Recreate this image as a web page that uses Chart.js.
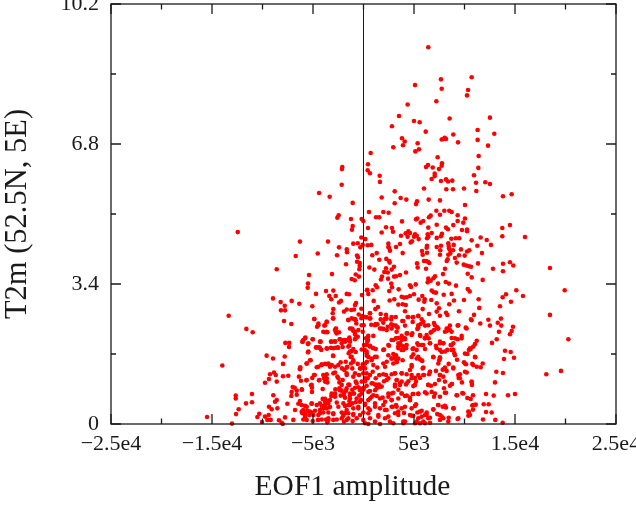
<!DOCTYPE html>
<html>
<head>
<meta charset="utf-8">
<script src="https://cdn.jsdelivr.net/npm/chart.js@4"></script>
<style>
  html, body { margin: 0; padding: 0; background: #fff; overflow: hidden; }
  canvas { display: block; }
</style>
</head>
<body>
<canvas id="scatter" width="636" height="508"></canvas>
<script>
// [EOF1 amplitude, T2m]
const samplesAbove5 = [
[6415,9.15],[7670,8.37],[10710,8.42],[5100,8.23],[7740,8.14],[10350,8.11],[10250,7.98],[7210,7.84],[4370,7.76],[3515,7.48],
[8530,7.42],[12520,7.44],[5000,7.36],[5560,7.33],[2820,7.23],[11300,7.14],[6160,7.10],[12950,7.05],[8890,7.03],[3810,6.94],
[11300,6.90],[7740,6.91],[7900,6.92],[8040,6.95],[8170,6.92],[4080,6.86],[5360,6.82],[9360,6.84],[3910,6.77],[12330,6.76],
[2950,6.72],[5130,6.62],[5490,6.67],[710,6.58],[7340,6.48],[11400,6.51],[445,6.31],[7770,6.33],[7740,6.27],[6385,6.29],
[6190,6.24],[6850,6.23],[7475,6.19],[11370,6.22],[415,6.16],[640,6.09],[1600,6.03],[7050,6.08],[7050,6.02],[10940,6.04],
[6750,5.95],[1630,5.88],[7670,5.90],[8170,5.94],[8365,5.89],[8790,5.91],[11140,5.86],[12060,5.87],[12520,5.83],[5990,5.72],
[8200,5.70],[8860,5.70],[9950,5.72],[3090,5.65],[11170,5.66],[13810,5.53],[14670,5.58],[1800,5.50],[3680,5.49],[4240,5.45],
[6455,5.45],[7570,5.43],[5300,5.41],[5200,5.34],[3090,5.36],[10050,5.32],[545,5.15],[1960,5.15],[2490,5.13],[7210,5.18],
[8000,5.18],[8490,5.18],[8730,5.15],[7570,5.08],[6650,5.06],[6480,5.02],[9320,5.07],[1240,5.02],[1560,5.02],[-2100,6.24],
[-2130,6.19],[-2160,5.81],[-4400,5.61],[-3350,5.52],[-1070,5.37],[-2460,5.07],[-2590,5.01]
];
const samples3to5 = [
[5330,4.99],[5200,4.97],[10050,4.99],[-180,4.98],[-1240,4.98],[-12450,4.66],[-20,4.93],[-1070,4.81],[-1140,4.72],[445,4.76],
[-6290,4.43],[-3515,4.43],[-215,4.53],[180,4.49],[-1010,4.38],[-570,4.39],[-80,4.35],[415,4.34],[-315,4.29],[-2425,4.29],
[-1660,4.24],[-1630,4.17],[-4530,4.14],[-2620,4.10],[-6710,4.08],[-640,4.09],[-545,4.05],[-640,3.94],[-375,3.91],[-1730,3.88],
[-375,3.84],[-415,3.76],[575,3.80],[-8590,3.76],[-5395,3.62],[-3120,3.64],[-770,3.63],[-445,3.58],[-1170,3.52],[-870,3.49],
[-5495,3.41],[-5525,3.31],[-4700,3.16],[-3710,3.23],[-2990,3.24],[-3385,3.11],[-2750,3.11],[-3190,3.03],[-1660,3.16],[-1435,3.15],
[-150,3.13],[375,3.26],[475,3.16],[-8960,3.05],[3810,4.92],[5660,4.89],[5920,4.93],[7250,4.84],[6415,4.77],[8170,4.77],
[8365,4.73],[8890,4.83],[9320,4.93],[9880,4.89],[2230,4.78],[2820,4.76],[2920,4.67],[1800,4.65],[13740,4.76],[14500,4.83],
[13740,4.56],[9750,4.71],[10250,4.72],[10250,4.68],[15990,4.54],[4440,4.68],[4180,4.63],[3710,4.57],[4600,4.64],[4370,4.55],
[5100,4.61],[5270,4.57],[5000,4.55],[5460,4.49],[4800,4.44],[4670,4.41],[6355,4.61],[6415,4.55],[6290,4.51],[6750,4.64],
[7770,4.62],[7670,4.56],[7250,4.52],[8690,4.50],[9130,4.51],[9480,4.51],[10710,4.46],[11600,4.53],[12200,4.47],[770,4.35],
[2460,4.38],[2460,4.30],[2520,4.28],[2620,4.21],[3610,4.37],[3220,4.30],[3880,4.15],[1310,4.15],[870,4.10],[1560,3.99],
[2260,4.01],[2550,3.96],[2590,3.92],[6290,4.33],[6255,4.28],[7250,4.30],[7670,4.33],[7600,4.22],[8395,4.39],[8435,4.32],
[8930,4.35],[8465,4.26],[8590,4.22],[8860,4.22],[11270,4.33],[12620,4.35],[9650,4.24],[10470,4.22],[10250,4.19],[5790,4.20],
[6290,4.16],[5860,4.11],[7570,4.11],[8590,4.14],[8395,4.11],[9450,4.10],[10020,4.09],[11730,4.15],[8330,4.00],[8240,3.96],
[9060,4.03],[9230,3.92],[5990,3.96],[6190,3.96],[6385,3.94],[6515,3.91],[5300,3.90],[5365,3.80],[6190,3.77],[3020,3.82],
[2790,3.75],[2230,3.78],[2060,3.69],[1070,3.75],[4210,3.68],[9920,3.87],[10180,3.85],[10440,3.83],[10640,3.82],[11340,3.90],
[13810,3.89],[14500,3.93],[14830,3.85],[12820,3.77],[13810,3.71],[18460,3.79],[8070,3.77],[7870,3.64],[10320,3.65],[10710,3.56],
[11800,3.50],[7080,3.59],[6920,3.54],[6415,3.53],[6650,3.48],[6355,3.44],[7375,3.41],[8140,3.45],[8465,3.41],[9160,3.36],
[3610,3.62],[3220,3.59],[3020,3.58],[2400,3.68],[1830,3.58],[1730,3.51],[2430,3.53],[2750,3.41],[2820,3.32],[1210,3.37],
[1340,3.32],[910,3.25],[4600,3.37],[4700,3.33],[5170,3.39],[3480,3.27],[2550,3.23],[345,3.25],[6750,3.24],[6950,3.20],
[7175,3.19],[5000,3.15],[4600,3.11],[10320,3.28],[10510,3.22],[7940,3.14],[8730,3.16],[5820,3.11],[6060,3.03],[5460,3.02],
[15130,3.25],[15790,3.11],[14110,3.15],[13780,3.08],[19920,3.25],[3780,3.09],[4010,3.07],[4280,3.08],[3050,3.03],[2590,3.00],
[1010,2.99],[11400,3.03],[9950,3.01],[8960,3.00],[6710,3.01]
];
const samples1to3 = [
[-8200,2.96],[-7110,2.99],[-7800,2.87],[-6360,2.92],[-2230,2.99],[-2425,2.95],[-740,2.94],[-840,2.89],[-5070,2.86],[-2990,2.79],
[-3050,2.69],[-8170,2.76],[-7770,2.76],[-215,2.80],[-1930,2.73],[-1660,2.78],[-1210,2.77],[-940,2.78],[640,2.69],[-475,2.66],
[-13350,2.63],[-150,2.62],[-215,2.57],[315,2.59],[-3020,2.57],[-4870,2.55],[-1170,2.57],[-1500,2.53],[-940,2.55],[-770,2.52],
[-710,2.44],[-7870,2.50],[-7150,2.43],[-3640,2.48],[-3880,2.39],[-4470,2.44],[-4600,2.36],[20,2.40],[-11600,2.31],[-2720,2.32],
[-1340,2.32],[-1070,2.30],[7250,2.93],[6020,2.97],[8490,2.91],[14600,2.97],[3450,2.90],[3880,2.91],[4180,2.89],[1435,2.84],
[1170,2.79],[13510,2.86],[11460,2.82],[4110,2.74],[5860,2.79],[7475,2.81],[7250,2.73],[8170,2.70],[9450,2.74],[640,2.69],
[1700,2.67],[220,2.60],[2230,2.65],[6485,2.67],[7570,2.63],[8300,2.65],[10940,2.65],[18460,2.65],[4370,2.60],[4870,2.59],
[5430,2.63],[3190,2.60],[2750,2.54],[2100,2.55],[1700,2.54],[670,2.57],[3840,2.50],[5760,2.54],[4870,2.48],[10640,2.54],
[12360,2.53],[13290,2.46],[13610,2.56],[1960,2.46],[1210,2.43],[770,2.41],[1370,2.42],[2750,2.42],[3190,2.39],[3390,2.34],
[2400,2.36],[1760,2.32],[4110,2.39],[5430,2.34],[5660,2.43],[6090,2.39],[6980,2.45],[7300,2.35],[8240,2.32],[8560,2.39],
[9320,2.39],[10120,2.34],[11560,2.44],[12520,2.39],[13640,2.39],[14800,2.36],[-10970,2.23],[-13980,1.42],[-9590,1.66],[-8960,1.59],
[-7800,1.64],[-7970,1.46],[-7740,1.97],[-7350,1.97],[-7380,1.87],[-5760,2.10],[-5960,2.04],[-6060,2.00],[-5495,1.94],[-5030,2.06],
[-4240,2.00],[-5495,1.74],[-5230,1.55],[-5620,1.47],[-4700,1.86],[-4375,1.86],[-4180,1.80],[-3610,1.83],[-3220,2.00],[-2820,2.01],
[-3220,1.85],[-2790,1.85],[-2550,1.86],[-2060,1.87],[-2750,2.31],[-2720,2.23],[-2425,2.23],[-3810,2.23],[-3580,2.23],[-1010,2.26],
[-840,2.18],[-570,2.12],[-80,2.24],[445,2.12],[445,2.04],[-770,2.09],[-1400,2.10],[-2360,2.06],[-2030,2.03],[-1830,2.00],
[-1600,2.04],[-1340,2.00],[-1400,1.90],[-1010,1.82],[-1170,1.77],[-1465,1.72],[-1270,1.63],[-770,1.75],[-180,1.81],[120,1.80],
[315,1.66],[-3020,1.66],[-3480,1.47],[-3810,1.46],[-4140,1.45],[-4630,1.38],[-3150,1.43],[-2260,1.50],[-1760,1.51],[-2130,1.35],
[-1900,1.31],[-1600,1.39],[-2490,1.43],[-1010,1.55],[-570,1.46],[-1240,1.47],[-1110,1.35],[-345,1.35],[-80,1.45],[345,1.51],
[-6290,1.33],[-6260,1.38],[-8860,1.25],[-8690,1.19],[-9260,1.21],[-9360,1.09],[-8590,1.03],[-7970,1.16],[-7450,1.17],[-6390,1.15],
[-6190,1.05],[-5660,1.06],[-5070,1.12],[-4830,1.19],[-4410,1.06],[-3980,1.19],[-3640,1.21],[-3910,1.11],[-3640,1.11],[-3810,1.03],
[-3580,1.01],[-2820,1.25],[-2590,1.15],[-2390,1.01],[-1660,1.19],[-2060,1.07],[-1010,1.15],[-770,1.03],[-245,1.35],[-20,1.23],
[-445,1.19],[150,1.04],[-180,1.03],[415,1.11],[20280,2.06],[11210,2.02],[11040,1.94],[10610,1.82],[10440,1.80],[10280,1.70],
[13190,2.06],[12720,1.97],[13410,2.24],[14500,2.18],[14670,2.26],[14010,1.78],[14570,1.75],[13910,1.58],[14900,1.61],[11070,1.62],
[10770,1.46],[11210,1.39],[11600,1.38],[11800,1.47],[9950,1.50],[10150,1.45],[9260,1.56],[8435,1.46],[8000,1.34],[8890,1.35],
[13150,1.27],[13810,1.24],[19550,1.29],[18100,1.21],[13020,1.01],[10710,1.01],[9750,1.01],[10220,1.25],[9550,1.21],[9550,1.11],
[9425,1.12],[7840,1.32],[7570,1.19],[7900,1.15],[7475,1.07],[7175,1.29],[6580,1.27],[6485,1.21],[5990,1.19],[5860,1.35],
[1960,2.31],[2300,2.28],[4340,2.20],[4830,2.20],[5330,2.31],[5630,2.14],[6090,2.09],[6455,2.08],[6650,2.22],[6980,2.28],
[7300,2.32],[8240,2.26],[8560,2.28],[8730,2.09],[9320,2.06],[9720,2.14],[475,2.14],[970,2.14],[250,2.08],[375,2.00],
[640,1.90],[910,1.85],[1210,1.82],[50,1.92],[315,1.72],[810,1.59],[1140,1.63],[150,1.47],[2030,1.81],[2520,1.90],
[2950,2.04],[3220,2.08],[3450,2.09],[3780,2.14],[3940,2.09],[4110,2.06],[3450,1.96],[3680,1.92],[3940,1.88],[4210,1.84],
[3450,1.84],[3940,1.80],[4870,1.82],[5330,1.96],[5760,1.92],[6090,1.82],[6580,1.96],[7175,1.90],[7570,2.00],[7900,1.96],
[4930,1.69],[5270,1.59],[5590,1.57],[5820,1.53],[6920,1.62],[7570,1.62],[7500,1.55],[7740,1.75],[8300,1.80],[8630,1.92],
[8890,1.96],[8730,1.80],[8990,1.72],[2950,1.70],[3220,1.67],[2790,1.59],[3120,1.59],[3450,1.59],[3290,1.50],[3880,1.55],
[2300,1.51],[1370,1.37],[2130,1.39],[4770,1.39],[4600,1.31],[3780,1.23],[3120,1.23],[2790,1.21],[1960,1.21],[1560,1.19],
[1210,1.11],[640,1.19],[150,1.35],[910,1.27],[4770,1.19],[5100,1.12],[5590,1.12],[4440,1.04],[3780,1.03],[3290,1.07],
[2460,1.11],[2230,1.19],[2030,1.04],[150,1.11],[5200,1.03]
];
const samplesBelow1 = [
[-15490,0.17],[-13020,0.01],[-12650,0.69],[-12650,0.62],[-12360,0.36],[-12620,0.24],[-11630,0.50],[-11040,0.53],[-11040,0.73],[-9750,1.00],
[-5200,0.94],[-4040,0.85],[-1500,0.96],[-515,0.89],[-280,0.86],[-7010,0.90],[-6810,0.88],[-6610,0.81],[-7110,0.78],[-7150,0.68],
[-6610,0.71],[-6090,0.83],[-5100,0.88],[-5100,0.78],[-2790,0.84],[-2390,0.87],[-2160,0.81],[-1930,0.74],[-2260,0.69],[-1730,0.81],
[-1400,0.95],[-1110,0.83],[-840,0.88],[-415,0.69],[-20,0.83],[315,0.93],[-1340,0.70],[-940,0.74],[-180,0.74],[-8930,0.70],
[-8590,0.58],[-8760,0.54],[-7540,0.49],[-9360,0.42],[-9090,0.36],[-8530,0.38],[-6780,0.34],[-4040,0.61],[-3810,0.61],[-3580,0.56],
[-3190,0.68],[-2820,0.66],[-2650,0.52],[-6290,0.56],[-6450,0.49],[-6120,0.46],[-5790,0.44],[-5130,0.49],[-5620,0.42],[-4630,0.46],
[-4140,0.44],[-3810,0.46],[-3480,0.50],[-3320,0.41],[-3640,0.38],[-1830,0.64],[-1400,0.56],[-1110,0.50],[-770,0.53],[-1500,0.46],
[-1830,0.44],[-515,0.42],[-245,0.58],[-1010,0.38],[150,0.49],[475,0.58],[-5960,0.34],[-5560,0.32],[-6060,0.26],[-5790,0.20],
[-5370,0.22],[-5960,0.11],[-5620,0.10],[-5130,0.28],[-4800,0.32],[-4310,0.34],[-3980,0.28],[-4470,0.22],[-3480,0.28],[-2990,0.24],
[-3710,0.11],[-3480,0.10],[-2990,0.10],[-10320,0.25],[-10510,0.17],[-9750,0.18],[-9390,0.22],[-10050,0.05],[-9520,0.10],[-9190,0.10],
[-7770,0.16],[-8370,0.09],[-8100,0.03],[-8000,0],[-6950,0.10],[-5030,0.07],[-4500,0.10],[-4140,0.11],[-3580,0.04],[-2650,0.11],
[-2160,0.28],[-2000,0.20],[-1500,0.26],[-2160,0.14],[-1660,0.10],[-1930,0.06],[-1010,0.24],[-670,0.14],[-20,0.28],[-345,0.22],
[-1070,0.07],[-20,0.10],[150,0.02],[475,0],[12130,0.73],[12890,0.69],[14310,0.70],[15000,0.73],[11900,0.48],[12390,0.48],
[12130,0.29],[12690,0.28],[11830,0.11],[13050,0.10],[13780,0.03],[9320,0.12],[8435,0.15],[10440,0.29],[10380,0.20],[8930,0.38],
[11110,0.47],[10770,0.45],[10840,0.35],[10610,0.61],[10840,0.70],[10280,0.63],[9780,0.75],[9260,0.70],[10740,0.95],[8560,0.93],
[7970,0.87],[8170,0.76],[8760,0.97],[3120,0.96],[3610,0.95],[1530,0.96],[1140,0.96],[1630,0.90],[1310,0.87],[910,0.99],
[50,0.88],[640,0.80],[970,0.70],[640,0.62],[1310,0.68],[1900,0.64],[2460,0.74],[2950,0.76],[3780,0.74],[3450,0.83],
[4210,0.96],[4930,0.92],[5430,0.74],[4870,0.73],[4600,0.64],[4280,0.69],[6090,0.77],[6750,0.78],[6980,0.66],[7570,0.66],
[6415,0.95],[6680,0.93],[4600,0.58],[5100,0.44],[5760,0.32],[6255,0.28],[7400,0.46],[7840,0.42],[8170,0.40],[6920,0.35],
[7300,0.24],[7740,0.18],[7570,0.10],[6580,0.15],[6255,0.22],[5760,0.18],[5330,0.28],[4770,0.20],[4010,0.27],[3450,0.22],
[3780,0.38],[3220,0.46],[2790,0.58],[2890,0.42],[1960,0.46],[2130,0.34],[1470,0.18],[1140,0.42],[640,0.34],[150,0.46],
[475,0.26],[1140,0.06],[1630,0],[2460,0.18],[2620,0.06],[2950,0.02],[4110,0.06],[5100,0.02],[5590,0.02],[6090,0.02],
[6580,0.03],[4930,0.20],[3940,0.02]
];
// second pass over the crowded middle of the cloud
const samplesCrowdedLow = [
[-4900,1.19],[-5630,1.07],[-6120,0.84],[-5130,0.95],[-4370,1.07],[-3810,1.15],[-3650,1.03],[-2990,1.23],[-2490,1.11],[-2160,0.95],
[-1670,0.87],[-2330,0.82],[-2820,0.74],[-1990,0.70],[-1340,0.62],[-1010,0.74],[-680,0.99],[-350,0.82],[-840,1.23],[-1670,1.23],
[310,1.23],[810,0.99],[1300,0.95],[1800,0.91],[1140,0.82],[2290,1.07],[480,0.78],[810,0.66],[1630,0.62],[2130,0.54],
[2460,0.66],[1140,0.50],[480,0.38],[1630,0.38],[2290,0.34],[-350,0.54],[-510,0.38],[-1340,0.46],[-1990,0.50],[-2490,0.42],
[-3320,0.58],[-3810,0.54],[-3980,0.38],[-4310,0.50],[-5130,0.50],[-5300,0.30],[-5790,0.26],[-6120,0.30],[-5790,0.14],[-4970,0.22],
[-4310,0.26],[-3480,0.14],[-2990,0.26],[-1830,0.26],[-1500,0.14],[-1010,0.22],[640,0.14],[1470,0.22],[2130,0.14],[-1670,0.34],
[-680,0.62],[-3150,0.74],[-1340,0.74],[3115,1.23],[3775,1.23],[4270,1.21],[4765,1.11],[5425,1.19],[5920,1.19],[6580,1.27],
[7570,1.19],[8230,1.29],[9385,1.19],[10045,1.27],[3280,1.07],[3610,0.99],[3115,0.91],[4270,0.99],[5095,0.95],[6415,0.95],
[7075,0.97],[8065,1.03],[8725,0.97],[10705,1.03],[2785,0.74],[3775,0.74],[4105,0.68],[3445,0.62],[4930,0.73],[5425,0.73],
[6250,0.74],[7075,0.74],[8065,0.76],[9220,0.70],[9880,0.74],[2785,0.58],[4600,0.58],[5195,0.48],[3280,0.42],[2785,0.42],
[3445,0.30],[3115,0.26],[4105,0.42],[4765,0.38],[5590,0.30],[6085,0.22],[6910,0.36],[7405,0.46],[8065,0.44],[8890,0.38],
[10375,0.30],[10540,0.22],[10870,0.46],[7570,0.22],[7900,0.14],[3940,0.06],[5425,0.14],[6415,0.14],[9385,0.14],[5920,0.06],
[5260,0.06],[4600,0.22],[8395,0.06]
];
const samplesCrowdedMid = [
[-4870,2.55],[-4470,2.40],[-3650,2.48],[-3810,2.40],[-2990,2.56],[-3650,2.24],[-3980,2.24],[-2820,2.28],[-2660,2.20],[-1500,2.52],
[-840,2.55],[-1170,2.32],[-840,2.24],[-510,2.28],[-180,2.40],[640,2.56],[150,2.60],[1140,2.40],[1630,2.32],[2290,2.56],
[-5790,2.08],[-6020,2.00],[-5030,2.06],[-5460,1.96],[-4310,2.00],[-3150,2.00],[-2820,2.00],[-2330,2.06],[-1830,2.04],[-1340,2.04],
[-840,2.06],[-2160,1.96],[-1500,1.88],[-1340,1.76],[-1170,1.63],[310,1.92],[640,1.88],[970,1.84],[310,1.76],[480,1.63],
[2460,1.92],[1960,1.80],[2460,1.67],[1300,1.63],[810,1.55],[-4640,1.86],[-3650,1.84],[-4310,1.84],[-2990,1.84],[-2490,1.85],
[-2990,1.65],[-5460,1.76],[-5300,1.55],[-5630,1.47],[-4470,1.39],[-4140,1.43],[-3650,1.45],[-3320,1.39],[-2820,1.39],[-6290,1.35],
[-1670,1.37],[-1010,1.51],[-20,1.43],[970,1.43],[1960,1.47],[2785,2.60],[3940,2.50],[4435,2.60],[4930,2.60],[5425,2.62],
[5920,2.48],[6415,2.40],[2950,2.40],[3280,2.36],[2785,2.32],[3280,2.24],[4270,2.20],[4765,2.16],[5425,2.40],[6745,2.24],
[6250,2.16],[5590,2.16],[6085,2.08],[7075,2.40],[7405,2.32],[8395,2.32],[8065,2.24],[8725,2.24],[9385,2.40],[10210,2.32],
[10705,2.52],[9055,2.08],[9715,2.08],[2785,2.04],[3280,2.08],[3775,2.04],[4105,2.08],[3610,1.96],[3940,1.88],[4270,1.92],
[3445,1.88],[3775,1.80],[3115,1.67],[2785,1.59],[3280,1.55],[2950,1.47],[4930,1.84],[5425,1.92],[5920,1.92],[6580,1.96],
[7570,1.96],[7900,1.96],[7240,1.84],[7570,1.80],[8065,1.76],[8725,1.92],[8890,1.80],[9055,1.67],[10540,1.84],[10870,1.88],
[10045,1.71],[11035,1.63],[5260,1.80],[4765,1.63],[5425,1.63],[5755,1.55],[6910,1.63],[7570,1.59],[7405,1.47],[4765,1.43],
[5920,1.37],[8065,1.37],[8890,1.37],[10045,1.47],[10870,1.43]
];

const xMajorTicks = [-25000, -15000, -5000, 5000, 15000, 25000];
const xMinorTicks = [-20000, -10000, 0, 10000, 20000];
const xTickLabels = ['\u22122.5e4', '\u22121.5e4', '\u22125e3', '5e3', '1.5e4', '2.5e4'];
const yMajorTicks = [0, 3.4, 6.8, 10.2];
const yMinorTicks = [1.7, 5.1, 8.5];
const yTickLabels = ['0', '3.4', '6.8', '10.2'];

const serif = '"Liberation Serif", "Times New Roman", serif';
const ink = '#1a1a1a';

// gnuplot style frame: inward ticks on all four sides, x title sits left of the plot centre
const framePlugin = {
  id: 'frame',
  afterDatasetsDraw(chart) {
    const { ctx, chartArea: a, scales: { x, y } } = chart;
    ctx.save();
    ctx.strokeStyle = ink;
    ctx.lineWidth = 1.3;
    ctx.strokeRect(a.left, a.top, a.right - a.left, a.bottom - a.top);
    ctx.beginPath();
    const xTick = (v, len) => {
      const p = x.getPixelForValue(v);
      ctx.moveTo(p, a.bottom); ctx.lineTo(p, a.bottom - len);
      ctx.moveTo(p, a.top); ctx.lineTo(p, a.top + len);
    };
    const yTick = (v, len) => {
      const p = y.getPixelForValue(v);
      ctx.moveTo(a.left, p); ctx.lineTo(a.left + len, p);
      ctx.moveTo(a.right, p); ctx.lineTo(a.right - len, p);
    };
    xMajorTicks.forEach(v => xTick(v, 10));
    xMinorTicks.forEach(v => xTick(v, 5.5));
    yMajorTicks.forEach(v => yTick(v, 10));
    yMinorTicks.forEach(v => yTick(v, 5));
    ctx.stroke();
    ctx.fillStyle = ink;
    ctx.font = '29.5px ' + serif;
    ctx.textAlign = 'center';
    ctx.textBaseline = 'middle';
    ctx.fillText('EOF1 amplitude', 352.5, 487);
    ctx.restore();
  }
};

const allSamples = [...samplesAbove5, ...samples3to5, ...samples1to3, ...samplesBelow1, ...samplesCrowdedLow, ...samplesCrowdedMid];

new Chart(document.getElementById('scatter'), {
  type: 'scatter',
  data: {
    datasets: [
      {
        data: [{ x: 0, y: 0 }, { x: 0, y: 10.2 }],
        showLine: true,
        borderColor: ink,
        borderWidth: 1,
        pointRadius: 0
      },
      {
        data: allSamples.map(s => ({ x: s[0], y: s[1] })),
        backgroundColor: '#ff0000',
        borderWidth: 0,
        pointRadius: 2.3,
        clip: false
      }
    ]
  },
  options: {
    responsive: false,
    animation: false,
    layout: { padding: { top: 3.5, right: 20, left: 0, bottom: 0 } },
    plugins: { legend: { display: false }, tooltip: { enabled: false } },
    scales: {
      x: {
        type: 'linear',
        min: -25000,
        max: 25000,
        afterBuildTicks: s => { s.ticks = xMajorTicks.map(v => ({ value: v })); },
        afterFit: s => { s.height = 84; s.paddingLeft = 0; s.paddingRight = 0; },
        grid: { display: false, drawTicks: false },
        border: { display: false },
        ticks: {
          autoSkip: false,
          maxRotation: 0,
          padding: 7,
          color: ink,
          font: { family: serif, size: 22 },
          callback: v => xTickLabels[xMajorTicks.indexOf(v)]
        }
      },
      y: {
        type: 'linear',
        min: 0,
        max: 10.2,
        afterBuildTicks: s => { s.ticks = yMajorTicks.map(v => ({ value: v })); },
        afterFit: s => { s.width = 111; s.paddingTop = 0; s.paddingBottom = 0; },
        grid: { display: false, drawTicks: false },
        border: { display: false },
        ticks: {
          autoSkip: false,
          padding: 12,
          color: ink,
          font: { family: serif, size: 22 },
          callback: v => yTickLabels[yMajorTicks.indexOf(v)]
        },
        title: {
          display: true,
          text: 'T2m (52.5N, 5E)',
          color: ink,
          font: { family: serif, size: 30.5 },
          padding: { top: 0, bottom: 0 }
        }
      }
    }
  },
  plugins: [framePlugin]
});
</script>
</body>
</html>
